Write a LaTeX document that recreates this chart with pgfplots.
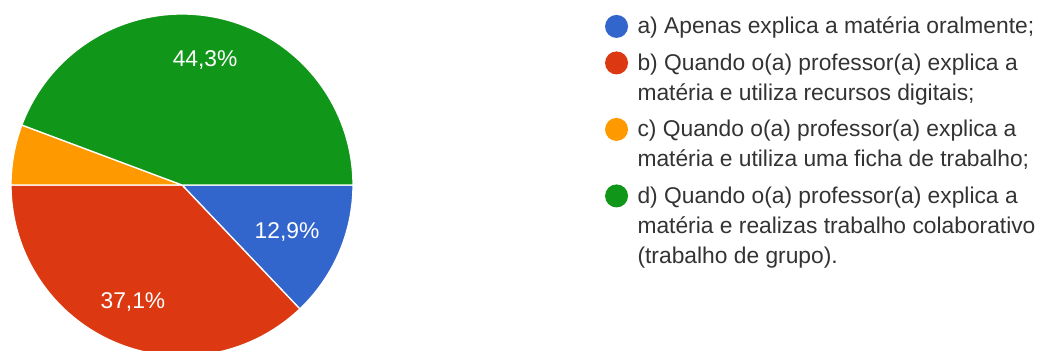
\documentclass[border=0pt]{standalone}
\usepackage{pgfplots}
\pgfplotsset{compat=1.18}
\usepackage{fontspec}
\setmainfont{Liberation Sans}
\definecolor{cA}{HTML}{3366CC}
\definecolor{cB}{HTML}{DC3912}
\definecolor{cC}{HTML}{FF9900}
\definecolor{cD}{HTML}{109618}
\definecolor{txt}{HTML}{333333}
% shares (percent)
\def\pA{12.9}\def\pB{37.1}\def\pC{5.7}\def\pD{44.3}
\pgfplotsset{contline/.style={legend image code/.code={\path[draw=none, fill=none] (0bp,-7bp) rectangle (23bp,23bp);}}}
\begin{document}
\begin{tikzpicture}
\useasboundingbox (0,0) rectangle (1042bp,351bp);
\clip (0,0) rectangle (1042bp,351bp);
\pgfmathsetmacro{\aA}{-3.6*\pA}
\pgfmathsetmacro{\aB}{\aA-3.6*\pB}
\pgfmathsetmacro{\aC}{\aB-3.6*\pC}
\begin{axis}[anchor=origin, at={(182bp,166bp)}, x=171bp, y=171bp,
  xmin=-1.05, xmax=1.05, ymin=-1.05, ymax=1.05, hide axis, clip=false,
  legend style={at={(axis cs:2.474,1.056)}, anchor=north west, draw=none, fill=none,
    font=\fontsize{22.8bp}{30bp}\selectfont, text=txt, row sep=0pt,
    inner sep=0pt, outer sep=0pt,
    cells={anchor=base west},
    nodes={inner sep=0pt, outer sep=0pt, anchor=base west, text height=16bp, text depth=5bp},
    column sep=9.5bp},
  legend image code/.code={\path[#1, draw=none] (11.5bp,7.5bp) circle (11.5bp);
    \path[draw=none, fill=none] (0bp,-7bp) rectangle (23bp,29.5bp);}]
\addplot[fill=cA, draw=white, line width=1.3bp, domain=\aA:0, samples=80, variable=\t]
  ({cos(t)},{sin(t)}) -- (axis cs:0,0) -- cycle;
\addlegendentry{a) Apenas explica a matéria oralmente;}
\addplot[fill=cB, draw=white, line width=1.3bp, domain=\aB:\aA, samples=120, variable=\t]
  ({cos(t)},{sin(t)}) -- (axis cs:0,0) -- cycle;
\addlegendentry{b) Quando o(a) professor(a) explica a}
\addlegendimage{contline}
\addlegendentry{matéria e utiliza recursos digitais;}
\addplot[fill=cC, draw=white, line width=1.3bp, domain=\aC:\aB, samples=30, variable=\t]
  ({cos(t)},{sin(t)}) -- (axis cs:0,0) -- cycle;
\addlegendentry{c) Quando o(a) professor(a) explica a}
\addlegendimage{contline}
\addlegendentry{matéria e utiliza uma ficha de trabalho;}
\addplot[fill=cD, draw=white, line width=1.3bp, domain=-360:\aC, samples=140, variable=\t]
  ({cos(t)},{sin(t)}) -- (axis cs:0,0) -- cycle;
\addlegendentry{d) Quando o(a) professor(a) explica a}
\addlegendimage{contline}
\addlegendentry{matéria e realizas trabalho colaborativo}
\addlegendimage{contline}
\addlegendentry{(trabalho de grupo).}
\node[text=white, font=\fontsize{22.8bp}{26bp}\selectfont] at (axis cs:0.135,0.731) {44,3\%};
\node[text=white, font=\fontsize{22.8bp}{26bp}\selectfont] at (axis cs:0.614,-0.275) {12,9\%};
\node[text=white, font=\fontsize{22.8bp}{26bp}\selectfont] at (axis cs:-0.287,-0.684) {37,1\%};
\end{axis}
\end{tikzpicture}
\end{document}
